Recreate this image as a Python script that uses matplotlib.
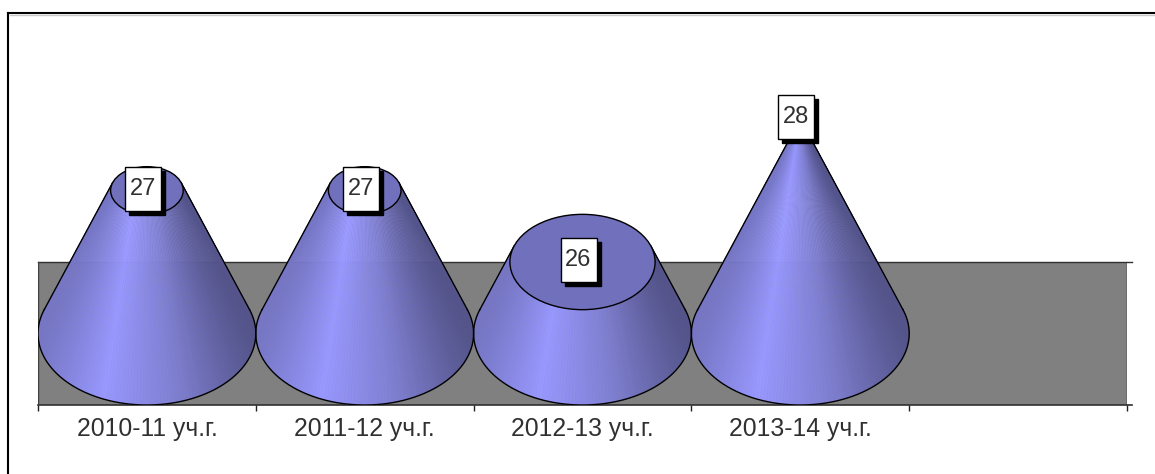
import matplotlib

matplotlib.use("Agg")
import matplotlib.pyplot as plt
import numpy as np
from matplotlib.collections import PolyCollection
from matplotlib.patches import Ellipse, Rectangle

categories = ["2010-11 уч.г.", "2011-12 уч.г.", "2012-13 уч.г.", "2013-14 уч.г.", ""]
values = [27, 27, 26, 28]

FIG_W, FIG_H = 1155, 474
PLOT_L, PLOT_R = 38, 1127
FLOOR_PX, TOP_PX = 405, 13
PX_PER_UNIT = 71.5

Y_MIN = 24  # floor of the box
Y_BASE = 25  # centre of the cone base ellipse
Y_APEX = 28  # value at which the cones close to a point
Y_WALL = 26  # top of the back wall

plt.rcParams["font.family"] = ["Liberation Sans", "DejaVu Sans"]

fig = plt.figure(figsize=(FIG_W / 100, FIG_H / 100), dpi=100)
ax = fig.add_axes(
    [
        PLOT_L / FIG_W,
        1 - FLOOR_PX / FIG_H,
        (PLOT_R - PLOT_L) / FIG_W,
        (FLOOR_PX - TOP_PX) / FIG_H,
    ]
)
n_slots = len(categories)
ax.set_xlim(0, n_slots)
ax.set_ylim(Y_MIN, Y_MIN + (FLOOR_PX - TOP_PX) / PX_PER_UNIT)
ax.patch.set_alpha(0)
for side in ax.spines.values():
    side.set_visible(False)
ax.set_yticks([])

# pixel sizes in data units
px_x = n_slots / (PLOT_R - PLOT_L)
px_y = 1 / PX_PER_UNIT

# back wall
ax.add_patch(Rectangle((0, Y_MIN), n_slots, Y_WALL - Y_MIN, facecolor="#808080", zorder=1))
ax.plot([0, n_slots + 5 * px_x], [Y_WALL, Y_WALL], color="#303030", lw=1, zorder=1.5, clip_on=False)
ax.plot([0, n_slots + 5 * px_x], [Y_MIN, Y_MIN], color="#303030", lw=1.2, zorder=1.5, clip_on=False)
ax.plot([n_slots, n_slots], [Y_MIN, Y_WALL], color="#202020", lw=1, zorder=1.5)
ax.plot([0, 0], [Y_MIN, Y_WALL], color="#404040", lw=1, zorder=1.5)

ax.set_xticks(np.arange(n_slots + 1))
ax.set_xticklabels([])
ax.tick_params(axis="x", length=4, width=1, color="#202020")
for i, name in enumerate(categories):
    ax.text(i + 0.5, Y_MIN - 24 * px_y, name, ha="center", va="center", fontsize=17.8, color="#303030")


def shade(u):
    # u is 0 at the left of the cone and 1 at the right
    r = np.interp(u, [0, 0.3, 0.65, 1], [118, 152, 126, 84])
    g = r
    b = np.interp(u, [0, 0.3, 0.65, 1], [198, 255, 208, 140])
    return np.column_stack([r, g, b]) / 255


# angle where the side lines touch the base ellipse
t_edge = np.arcsin(1 / (Y_APEX - Y_BASE))
t_vals = np.linspace(np.pi - t_edge, 2 * np.pi + t_edge, 121)
base_rx = 0.5
base_ry = 1.0

for i, val in enumerate(values):
    cx = i + 0.5
    k = (Y_APEX - val) / (Y_APEX - Y_BASE)  # top size relative to base

    bx = cx + base_rx * np.cos(t_vals)
    by = Y_BASE + base_ry * np.sin(t_vals)
    tx = cx + k * base_rx * np.cos(t_vals)
    ty = val + k * base_ry * np.sin(t_vals)

    quads = [
        [(bx[j], by[j]), (bx[j + 1], by[j + 1]), (tx[j + 1], ty[j + 1]), (tx[j], ty[j])]
        for j in range(len(t_vals) - 1)
    ]
    u_mid = (np.cos(t_vals[:-1] + np.diff(t_vals) / 2) + 1) / 2
    cols = shade(u_mid)
    ax.add_collection(PolyCollection(quads, facecolors=cols, edgecolors=cols, linewidths=0.4, zorder=3))

    # outline: bottom curve and the two sides
    ax.plot(bx, by, color="black", lw=1, zorder=4)
    ax.plot([bx[0], tx[0]], [by[0], ty[0]], color="black", lw=1, zorder=4)
    ax.plot([bx[-1], tx[-1]], [by[-1], ty[-1]], color="black", lw=1, zorder=4)

    if k > 0:
        ax.add_patch(
            Ellipse(
                (cx, val),
                2 * k * base_rx,
                2 * k * base_ry,
                facecolor="#7070BC",
                edgecolor="black",
                lw=1,
                zorder=5,
            )
        )

    # value label with its shadow
    box_w, box_h = 36 * px_x, 44 * px_y
    lx = cx - 4 * px_x
    ly = val + 2 * px_y
    ax.add_patch(
        Rectangle(
            (lx - box_w / 2 + 4 * px_x, ly - box_h / 2 - 4 * px_y),
            box_w,
            box_h,
            facecolor="black",
            edgecolor="black",
            lw=1,
            zorder=6,
        )
    )
    ax.add_patch(
        Rectangle(
            (lx - box_w / 2, ly - box_h / 2),
            box_w,
            box_h,
            facecolor="white",
            edgecolor="black",
            lw=1,
            zorder=7,
        )
    )
    ax.text(lx, ly, str(val), ha="center", va="center", fontsize=17, color="#303030", zorder=8)

# outer frame, open on the right, with its thin grey edge
fig.add_artist(plt.Line2D([9.5 / FIG_W, 1], [1 - 14.5 / FIG_H, 1 - 14.5 / FIG_H], color="#c8c8c8", lw=1))
fig.add_artist(plt.Line2D([8 / FIG_W, 8 / FIG_W], [0, 1 - 13 / FIG_H], color="black", lw=1.5))
fig.add_artist(plt.Line2D([8 / FIG_W, 1], [1 - 13 / FIG_H, 1 - 13 / FIG_H], color="black", lw=1.5))

fig.savefig("out.png", dpi=100)
